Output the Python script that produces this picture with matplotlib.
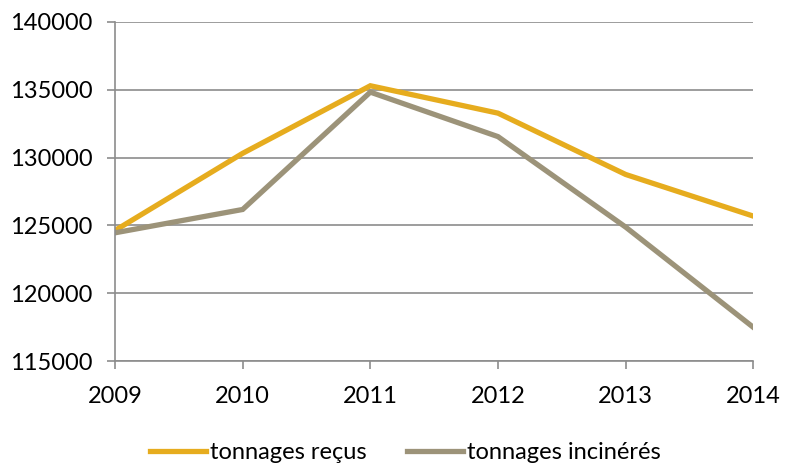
import matplotlib.pyplot as plt

years = [2009, 2010, 2011, 2012, 2013, 2014]
recus = [124630, 130320, 135300, 133280, 128760, 125690]
incineres = [124460, 126180, 134830, 131550, 124880, 117490]
yticks = [115000, 120000, 125000, 130000, 135000, 140000]

plt.rcParams['font.family'] = ['Lato', 'DejaVu Sans']

fig = plt.figure(figsize=(7.93, 4.63), dpi=100)
ax = fig.add_axes([0.145, 0.22, 0.805, 0.7325])

ax.plot(years, recus, color='#E6AC1E', lw=3.8, label='tonnages reçus', solid_joinstyle='miter')
ax.plot(years, incineres, color='#9C9379', lw=3.8, label='tonnages incinérés', solid_joinstyle='miter')

ax.set_xlim(2009, 2014)
ax.set_ylim(115000, 140000)
ax.set_yticks(yticks)
ax.set_yticklabels([str(v) for v in yticks])
ax.set_xticks(years)
ax.grid(axis='y', color='#8c8c8c', lw=1.2)
ax.set_axisbelow(True)
for s in ['top', 'right']:
    ax.spines[s].set_visible(False)
for s in ['left', 'bottom']:
    ax.spines[s].set_color('#8c8c8c')
    ax.spines[s].set_linewidth(1.2)
ax.tick_params(axis='y', color='#8c8c8c', length=6, width=1.2, labelsize=17, pad=10)
ax.tick_params(axis='x', color='#8c8c8c', length=6, width=1.2, labelsize=17, pad=12)

fig.legend(loc='center', bbox_to_anchor=(0.511, 0.022), ncol=2, frameon=False,
           fontsize=17, handlelength=2.4, handletextpad=0.15, columnspacing=1.7)

fig.savefig('out.png', dpi=100)
